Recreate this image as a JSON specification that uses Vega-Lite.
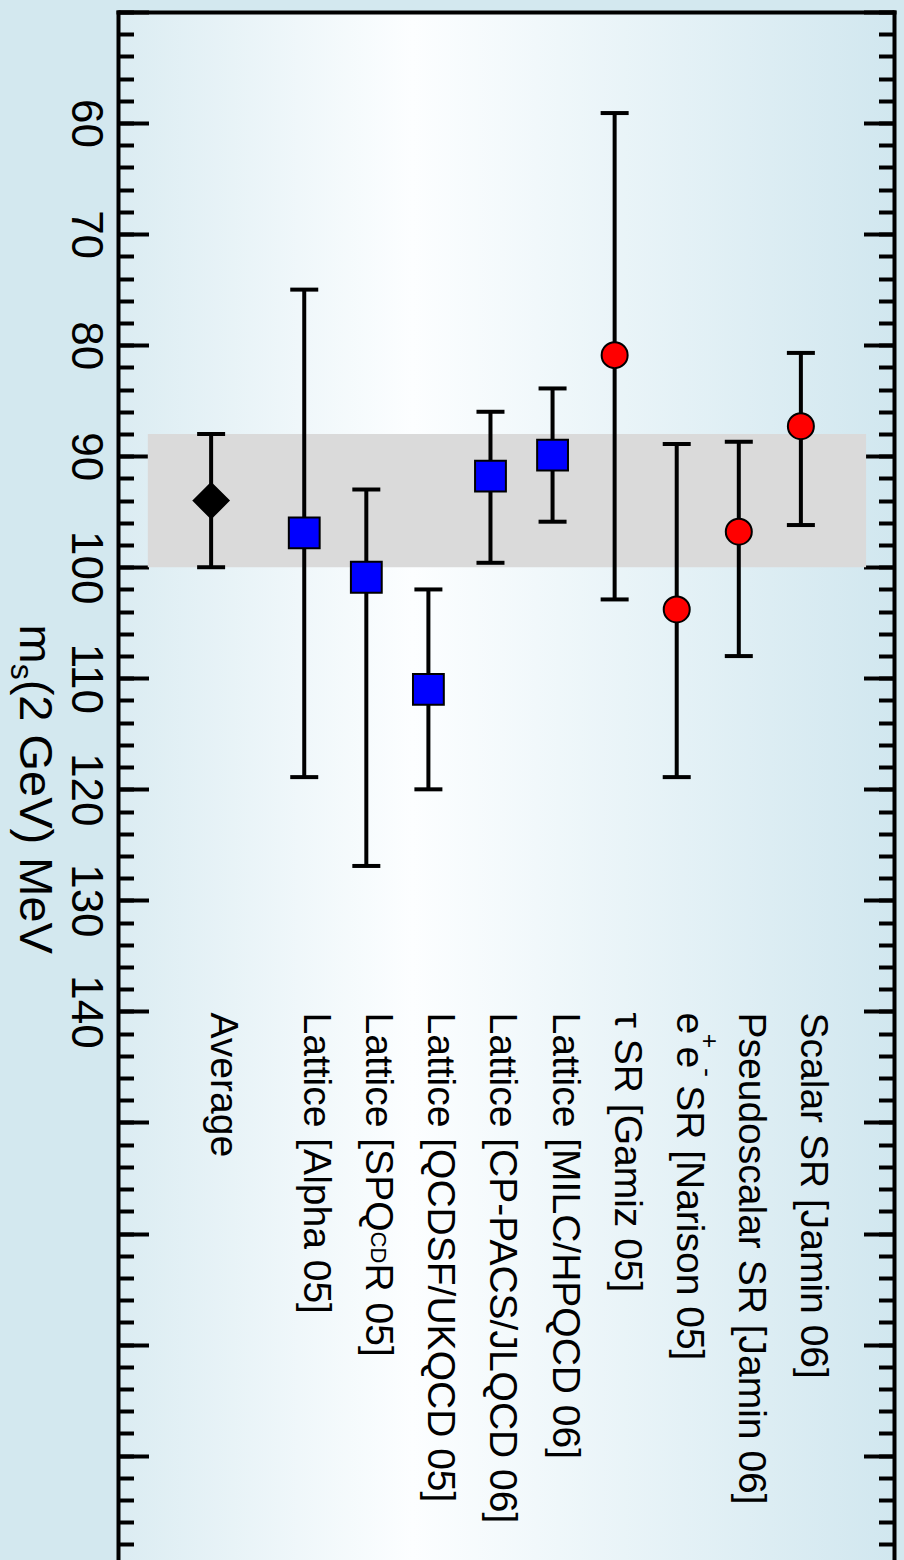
{
  "$schema": "https://vega.github.io/schema/vega-lite/v6.json",
  "width": 776,
  "height": 1548,
  "autosize": {"type": "none"},
  "padding": {"left": 118, "top": 12, "right": 10, "bottom": 0},
  "background": "#d3e8ef",
  "config": {
    "view": {
      "stroke": null,
      "fill": {
        "gradient": "linear",
        "x1": 0, "y1": 0, "x2": 1, "y2": 0,
        "stops": [
          {"offset": 0, "color": "#dbecf2"},
          {"offset": 0.38, "color": "#fcfeff"},
          {"offset": 1, "color": "#d1e7ef"}
        ]
      }
    },
    "axis": {
      "domainColor": "black",
      "domainWidth": 4,
      "domainCap": "square",
      "tickColor": "black",
      "tickWidth": 4,
      "grid": false,
      "title": null
    }
  },
  "data": {
    "values": [
      {"name": "Average", "kind": "avg", "pos": 0, "m": 94, "lo": 88, "hi": 100},
      {"name": "Lattice [Alpha 05]", "kind": "lat", "pos": 1.5, "m": 96.9, "lo": 75, "hi": 118.9},
      {"name": "Lattice [SPQ", "sub": "CD", "subrest": "R 05]", "kind": "lat", "pos": 2.5, "m": 100.9, "lo": 93, "hi": 126.9},
      {"name": "Lattice [QCDSF/UKQCD 05]", "kind": "lat", "pos": 3.5, "m": 111, "lo": 102, "hi": 120},
      {"name": "Lattice [CP-PACS/JLQCD 06]", "kind": "lat", "pos": 4.5, "m": 91.8, "lo": 86, "hi": 99.6},
      {"name": "Lattice [MILC/HPQCD 06]", "kind": "lat", "pos": 5.5, "m": 89.9, "lo": 83.9, "hi": 95.9},
      {"name": "τ SR [Gamiz 05]", "kind": "sr", "pos": 6.5, "m": 80.9, "lo": 59.1, "hi": 102.9},
      {"name": "e", "sup1": "+", "mid": "e", "sup2": "-", "suprest": "SR [Narison 05]", "kind": "sr", "pos": 7.5, "m": 103.8, "lo": 88.9, "hi": 118.9},
      {"name": "Pseudoscalar SR [Jamin 06]", "kind": "sr", "pos": 8.5, "m": 96.8, "lo": 88.7, "hi": 108},
      {"name": "Scalar SR [Jamin 06]", "kind": "sr", "pos": 9.5, "m": 87.3, "lo": 80.7, "hi": 96.2}
    ]
  },
  "layer": [
    {
      "transform": [{"filter": "datum.kind == 'avg'"}],
      "mark": {"type": "rect", "color": "#dadada", "opacity": 1},
      "encoding": {
        "x": {"datum": -1.02, "type": "quantitative", "scale": {"domain": [-1.5, 11], "nice": false, "zero": false},
              "axis": {"orient": "top", "ticks": false, "labels": false, "domain": true, "title": null}},
        "x2": {"datum": 10.55},
        "y": {"field": "lo", "type": "quantitative", "scale": {"domain": [50, 189.4], "reverse": true, "nice": false, "zero": false},
              "axis": {"orient": "left", "values": [50,60,70,80,90,100,110,120,130,140,150,160,170,180,190],
                       "tickSize": -30.5, "domain": true, "labels": true,
                       "labelExpr": "datum.value >= 60 && datum.value <= 140 ? datum.label : ''",
                       "labelAngle": 90, "labelAlign": "center", "labelBaseline": "top", "labelPadding": 42,
                       "labelFont": "Liberation Sans", "labelFontSize": 44, "labelColor": "black",
                       "labelOverlap": false, "labelBound": false, "labelFlush": false, "title": null}},
        "y2": {"field": "hi"}
      }
    },
    {
      "mark": {"type": "rule", "color": "black", "strokeWidth": 4},
      "encoding": {
        "x": {"field": "pos", "type": "quantitative", "scale": {"domain": [-1.5, 11], "nice": false, "zero": false}, "axis": null},
        "y": {"field": "lo", "type": "quantitative", "scale": {"domain": [50, 189.4], "reverse": true, "nice": false, "zero": false},
              "axis": {"orient": "left", "values": [50,52,54,56,58,60,62,64,66,68,70,72,74,76,78,80,82,84,86,88,90,92,94,96,98,100,102,104,106,108,110,112,114,116,118,120,122,124,126,128,130,132,134,136,138,140,142,144,146,148,150,152,154,156,158,160,162,164,166,168,170,172,174,176,178,180,182,184,186,188],
                       "tickSize": -15.5, "domain": false, "labels": false, "title": null}},
        "y2": {"field": "hi"}
      }
    },
    {
      "transform": [{"fold": ["lo", "hi"], "as": ["end", "val"]}],
      "mark": {"type": "tick", "orient": "horizontal", "color": "black", "size": 28, "thickness": 4, "opacity": 1},
      "encoding": {
        "x": {"field": "pos", "type": "quantitative", "scale": {"domain": [-1.5, 11], "nice": false, "zero": false}, "axis": null},
        "y": {"field": "val", "type": "quantitative", "scale": {"domain": [50, 189.4], "reverse": true, "nice": false, "zero": false},
              "axis": {"orient": "right", "values": [50,60,70,80,90,100,110,120,130,140,150,160,170,180,190],
                       "tickSize": -30.5, "domain": true, "labels": false, "title": null}}
      }
    },
    {
      "mark": {"type": "point", "filled": true, "stroke": "black", "strokeWidth": 2, "opacity": 1, "fillOpacity": 1, "strokeOpacity": 1},
      "encoding": {
        "x": {"field": "pos", "type": "quantitative", "scale": {"domain": [-1.5, 11], "nice": false, "zero": false}, "axis": null},
        "y": {"field": "m", "type": "quantitative", "scale": {"domain": [50, 189.4], "reverse": true, "nice": false, "zero": false},
              "axis": {"orient": "right", "values": [50,52,54,56,58,60,62,64,66,68,70,72,74,76,78,80,82,84,86,88,90,92,94,96,98,100,102,104,106,108,110,112,114,116,118,120,122,124,126,128,130,132,134,136,138,140,142,144,146,148,150,152,154,156,158,160,162,164,166,168,170,172,174,176,178,180,182,184,186,188],
                       "tickSize": -15.5, "domain": false, "labels": false, "title": null}},
        "shape": {"field": "kind", "type": "nominal", "scale": {"domain": ["avg", "lat", "sr"], "range": ["diamond", "square", "circle"]}, "legend": null},
        "fill": {"field": "kind", "type": "nominal", "scale": {"domain": ["avg", "lat", "sr"], "range": ["#000000", "#0000ff", "#ff0000"]}, "legend": null},
        "size": {"field": "kind", "type": "nominal", "scale": {"domain": ["avg", "lat", "sr"], "range": [1225, 676, 960]}, "legend": null}
      }
    },
    {
      "mark": {"type": "text", "angle": 90, "align": "left", "baseline": "alphabetic", "font": "Liberation Sans", "fontSize": 39, "color": "black"},
      "encoding": {
        "x": {"field": "pos", "type": "quantitative", "scale": {"domain": [-1.5, 11], "nice": false, "zero": false}, "axis": null},
        "y": {"datum": 140.1, "type": "quantitative", "scale": {"domain": [50, 189.4], "reverse": true, "nice": false, "zero": false}, "axis": null},
        "text": {"field": "name"}
      }
    },
    {
      "transform": [{"filter": "datum.sub != null"}],
      "mark": {"type": "text", "angle": 90, "align": "left", "baseline": "alphabetic", "font": "Liberation Sans", "fontSize": 22, "color": "black", "dx": 219, "dy": -5},
      "encoding": {
        "x": {"field": "pos", "type": "quantitative", "scale": {"domain": [-1.5, 11], "nice": false, "zero": false}, "axis": null},
        "y": {"datum": 140.1, "type": "quantitative", "scale": {"domain": [50, 189.4], "reverse": true, "nice": false, "zero": false}, "axis": null},
        "text": {"field": "sub"}
      }
    },
    {
      "transform": [{"filter": "datum.subrest != null"}],
      "mark": {"type": "text", "angle": 90, "align": "left", "baseline": "alphabetic", "font": "Liberation Sans", "fontSize": 39, "color": "black", "dx": 251},
      "encoding": {
        "x": {"field": "pos", "type": "quantitative", "scale": {"domain": [-1.5, 11], "nice": false, "zero": false}, "axis": null},
        "y": {"datum": 140.1, "type": "quantitative", "scale": {"domain": [50, 189.4], "reverse": true, "nice": false, "zero": false}, "axis": null},
        "text": {"field": "subrest"}
      }
    },
    {
      "transform": [{"filter": "datum.sup1 != null"}],
      "mark": {"type": "text", "angle": 90, "align": "left", "baseline": "alphabetic", "font": "Liberation Sans", "fontSize": 25, "color": "black", "dx": 21.2, "dy": -24},
      "encoding": {
        "x": {"field": "pos", "type": "quantitative", "scale": {"domain": [-1.5, 11], "nice": false, "zero": false}, "axis": null},
        "y": {"datum": 140.1, "type": "quantitative", "scale": {"domain": [50, 189.4], "reverse": true, "nice": false, "zero": false}, "axis": null},
        "text": {"field": "sup1"}
      }
    },
    {
      "transform": [{"filter": "datum.mid != null"}],
      "mark": {"type": "text", "angle": 90, "align": "left", "baseline": "alphabetic", "font": "Liberation Sans", "fontSize": 39, "color": "black", "dx": 34},
      "encoding": {
        "x": {"field": "pos", "type": "quantitative", "scale": {"domain": [-1.5, 11], "nice": false, "zero": false}, "axis": null},
        "y": {"datum": 140.1, "type": "quantitative", "scale": {"domain": [50, 189.4], "reverse": true, "nice": false, "zero": false}, "axis": null},
        "text": {"field": "mid"}
      }
    },
    {
      "transform": [{"filter": "datum.sup2 != null"}],
      "mark": {"type": "text", "angle": 90, "align": "left", "baseline": "alphabetic", "font": "Liberation Sans", "fontSize": 27, "color": "black", "dx": 55.5, "dy": -22},
      "encoding": {
        "x": {"field": "pos", "type": "quantitative", "scale": {"domain": [-1.5, 11], "nice": false, "zero": false}, "axis": null},
        "y": {"datum": 140.1, "type": "quantitative", "scale": {"domain": [50, 189.4], "reverse": true, "nice": false, "zero": false}, "axis": null},
        "text": {"field": "sup2"}
      }
    },
    {
      "transform": [{"filter": "datum.suprest != null"}],
      "mark": {"type": "text", "angle": 90, "align": "left", "baseline": "alphabetic", "font": "Liberation Sans", "fontSize": 39, "color": "black", "dx": 72.6},
      "encoding": {
        "x": {"field": "pos", "type": "quantitative", "scale": {"domain": [-1.5, 11], "nice": false, "zero": false}, "axis": null},
        "y": {"datum": 140.1, "type": "quantitative", "scale": {"domain": [50, 189.4], "reverse": true, "nice": false, "zero": false}, "axis": null},
        "text": {"field": "suprest"}
      }
    },
    {
      "data": {"values": [{"t": "m"}]},
      "mark": {"type": "text", "angle": 90, "align": "left", "baseline": "alphabetic", "font": "Liberation Sans", "fontSize": 47, "color": "black"},
      "encoding": {
        "x": {"datum": -3.08, "type": "quantitative", "scale": {"domain": [-1.5, 11], "nice": false, "zero": false}, "axis": null},
        "y": {"datum": 105.15, "type": "quantitative", "scale": {"domain": [50, 189.4], "reverse": true, "nice": false, "zero": false}, "axis": null},
        "text": {"field": "t"}
      }
    },
    {
      "data": {"values": [{"t": "s"}]},
      "mark": {"type": "text", "angle": 90, "align": "left", "baseline": "alphabetic", "font": "Liberation Sans", "fontSize": 32, "color": "black", "dx": 39.2, "dy": 9},
      "encoding": {
        "x": {"datum": -3.08, "type": "quantitative", "scale": {"domain": [-1.5, 11], "nice": false, "zero": false}, "axis": null},
        "y": {"datum": 105.15, "type": "quantitative", "scale": {"domain": [50, 189.4], "reverse": true, "nice": false, "zero": false}, "axis": null},
        "text": {"field": "t"}
      }
    },
    {
      "data": {"values": [{"t": "(2 GeV) MeV"}]},
      "mark": {"type": "text", "angle": 90, "align": "left", "baseline": "alphabetic", "font": "Liberation Sans", "fontSize": 47, "color": "black", "dx": 55.2},
      "encoding": {
        "x": {"datum": -3.08, "type": "quantitative", "scale": {"domain": [-1.5, 11], "nice": false, "zero": false}, "axis": null},
        "y": {"datum": 105.15, "type": "quantitative", "scale": {"domain": [50, 189.4], "reverse": true, "nice": false, "zero": false}, "axis": null},
        "text": {"field": "t"}
      }
    }
  ],
  "resolve": {"axis": {"x": "independent", "y": "independent"}}
}
